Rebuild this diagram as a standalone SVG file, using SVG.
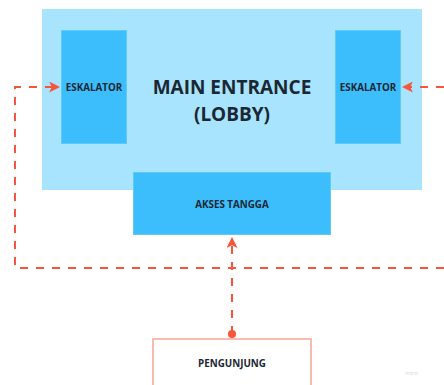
<svg xmlns="http://www.w3.org/2000/svg" width="444" height="385" viewBox="0 0 444 385">
  <style>
    .area { fill: #A8E4FE; }
    .block { fill: #3BBEFB; stroke: #5CCBFC; stroke-width: 1; }
    .label { font-family: "Open Sans", "Noto Sans", "Liberation Sans", sans-serif; font-weight: bold; fill: #1B2733; text-anchor: middle; }
    .small { font-size: 9.8px; }
    .big { font-size: 19px; }
    .flow { fill: none; stroke: #F6553A; stroke-width: 2; stroke-dasharray: 8 8; }
  </style>
  <defs>
    <marker id="arrow" viewBox="0 0 10 10" refX="9" refY="5" markerWidth="5.5" markerHeight="5.5" orient="auto">
      <path d="M0,0 L10,5 L0,10 L2.5,5 Z" fill="#F6553A"/>
    </marker>
  </defs>

  <g id="main-entrance">
    <rect class="area" x="42" y="9" width="380" height="181"/>
    <text class="label big" x="232" y="94">MAIN ENTRANCE</text>
    <text class="label big" x="232" y="121">(LOBBY)</text>
  </g>

  <g id="eskalator-left">
    <rect class="block" x="61.5" y="30.5" width="65" height="113"/>
    <text class="label small" x="94" y="90.5">ESKALATOR</text>
  </g>

  <g id="eskalator-right">
    <rect class="block" x="335.5" y="30.5" width="65" height="113"/>
    <text class="label small" x="368" y="90.5">ESKALATOR</text>
  </g>

  <g id="akses-tangga">
    <rect class="block" x="133.5" y="172.5" width="197" height="62"/>
    <text class="label small" x="232" y="207.5">AKSES TANGGA</text>
  </g>

  <g id="pengunjung">
    <rect x="153" y="339" width="158" height="60" fill="#FFFFFF" stroke="#F7A595" stroke-width="1.5"/>
    <text class="label small" x="232" y="366.5">PENGUNJUNG</text>
  </g>

  <g id="connectors">
    <path class="flow" d="M444,268 L15,268 L15,87 L59,87" marker-end="url(#arrow)"/>
    <path class="flow" d="M444,87 L403,87" marker-end="url(#arrow)"/>
    <path class="flow" d="M232,334 L232,238" marker-end="url(#arrow)"/>
    <circle cx="232" cy="334" r="4" fill="#F6553A"/>
  </g>

  <text x="405" y="375" font-family="'Open Sans', 'Liberation Sans', sans-serif" font-size="6" fill="#D8D8E2">miro</text>
</svg>
